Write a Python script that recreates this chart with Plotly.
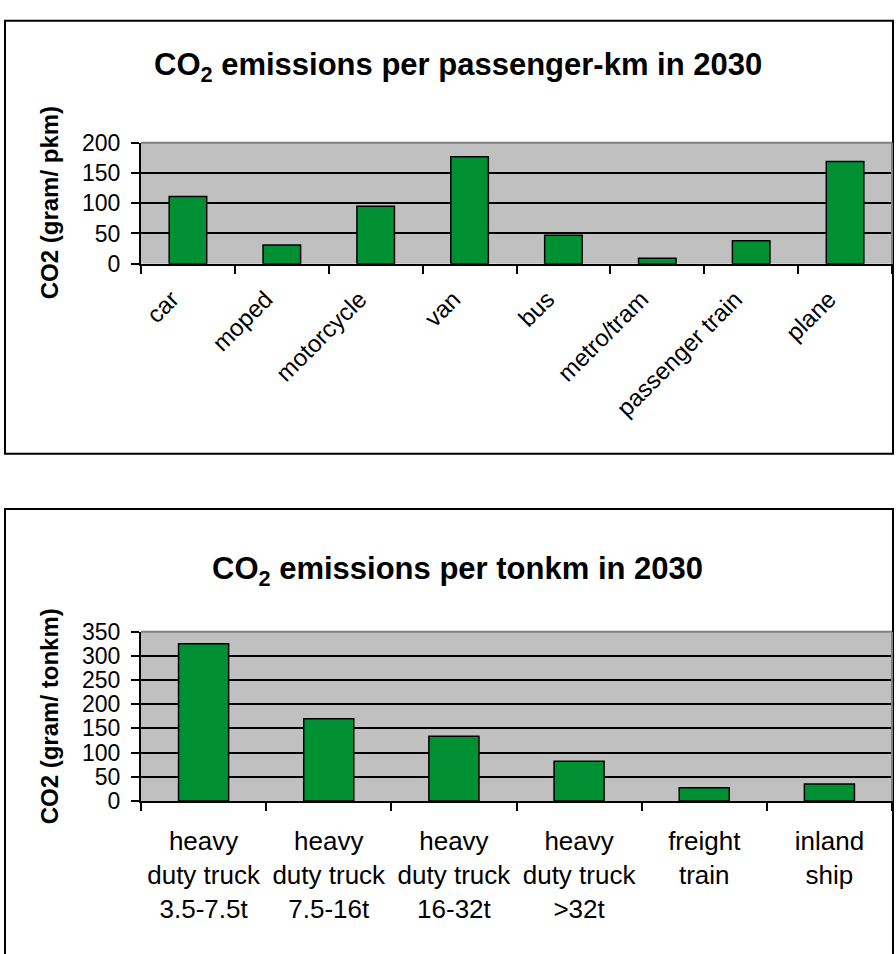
import plotly.graph_objects as go

# --- data -----------------------------------------------------------------
passenger_modes = ["car", "moped", "motorcycle", "van", "bus",
                   "metro/tram", "passenger train", "plane"]
passenger_co2 = [111, 31, 95, 177, 47, 9, 38, 169]

freight_modes = ["heavy<br>duty truck<br>3.5-7.5t",
                 "heavy<br>duty truck<br>7.5-16t",
                 "heavy<br>duty truck<br>16-32t",
                 "heavy<br>duty truck<br>>32t",
                 "freight<br>train",
                 "inland<br>ship"]
freight_co2 = [325, 170, 134, 82, 27, 35]

passenger_ticks = [0, 50, 100, 150, 200]
freight_ticks = [0, 50, 100, 150, 200, 250, 300, 350]

# --- styling ----------------------------------------------------------------
W, H = 896, 954
FONT = "Liberation Sans, Arial, sans-serif"
BAR_GREEN = "#009034"
PLOT_GREY = "#C0C0C0"


def px_x(x):
    return x / W


def px_y(y):
    return 1 - y / H


fig = go.Figure()

fig.add_trace(go.Bar(
    x=passenger_modes, y=passenger_co2, xaxis="x", yaxis="y",
    marker=dict(color=BAR_GREEN, line=dict(color="black", width=1.5)),
    showlegend=False, hoverinfo="x+y",
))
fig.add_trace(go.Bar(
    x=freight_modes, y=freight_co2, xaxis="x2", yaxis="y2",
    marker=dict(color=BAR_GREEN, line=dict(color="black", width=1.5)),
    showlegend=False, hoverinfo="y",
))

plot_left, plot_right = 141, 892
top_plot = (133.5, 257.7)
bot_plot = (636, 810)

xaxis_common = dict(
    showline=True, linecolor="black", linewidth=2,
    ticks="outside", ticklen=8, tickwidth=2, tickcolor="black",
    tickson="boundaries", showgrid=False, zeroline=False,
    fixedrange=True,
)
yaxis_common = dict(
    showline=True, linecolor="black", linewidth=2,
    ticks="outside", ticklen=8, tickwidth=2, tickcolor="black",
    showgrid=True, gridcolor="black", gridwidth=2, zeroline=False,
    tickfont=dict(family=FONT, size=23, color="black"),
    ticklabelstandoff=6,
    fixedrange=True,
)

fig.update_layout(
    width=W, height=H,
    margin=dict(l=0, r=0, t=0, b=0),
    paper_bgcolor="white",
    plot_bgcolor=PLOT_GREY,
    bargap=0.6,
    font=dict(family=FONT, color="black"),
    xaxis=dict(domain=[px_x(plot_left), px_x(plot_right)], anchor="y",
               tickangle=-45, ticklabelstandoff=10, ticklabelshift=-16,
               tickfont=dict(family=FONT, size=24, color="black"),
               **xaxis_common),
    yaxis=dict(domain=[px_y(top_plot[1]), px_y(top_plot[0])], anchor="x",
               range=[0, 200], tickvals=passenger_ticks, **yaxis_common),
    xaxis2=dict(domain=[px_x(plot_left), px_x(plot_right)], anchor="y2",
                tickangle=0, ticklabelstandoff=16,
                tickfont=dict(family=FONT, size=26, color="black"),
                **xaxis_common),
    yaxis2=dict(domain=[px_y(bot_plot[1]), px_y(bot_plot[0])], anchor="x2",
                range=[0, 350], tickvals=freight_ticks, **yaxis_common),
)

shapes = []
# chart frames
shapes.append(dict(type="rect", xref="paper", yref="paper",
                   x0=px_x(5), x1=px_x(893), y0=px_y(453), y1=px_y(8),
                   line=dict(color="black", width=2), layer="below"))
shapes.append(dict(type="rect", xref="paper", yref="paper",
                   x0=px_x(5), x1=px_x(893), y0=-0.02, y1=px_y(510),
                   line=dict(color="black", width=2), layer="below"))
# grey top/right edge of each plot area
for (ytop, ybot) in (top_plot, bot_plot):
    shapes.append(dict(type="line", xref="paper", yref="paper",
                       x0=px_x(plot_left), x1=px_x(plot_right),
                       y0=px_y(ytop), y1=px_y(ytop),
                       line=dict(color="#808080", width=2), layer="above"))
    shapes.append(dict(type="line", xref="paper", yref="paper",
                       x0=px_x(plot_right), x1=px_x(plot_right),
                       y0=px_y(ytop), y1=px_y(ybot),
                       line=dict(color="#808080", width=2), layer="above"))
fig.update_layout(shapes=shapes)

label_common = dict(xref="paper", yref="paper", showarrow=False,
                    xanchor="center", yanchor="middle")
annotations = [
    dict(text="<b>CO<sub>2</sub> emissions per passenger-km in 2030</b>",
         x=px_x(458), y=px_y(55),
         font=dict(family=FONT, size=31, color="black"), **label_common),
    dict(text="<b>CO<sub>2</sub> emissions per tonkm in 2030</b>",
         x=px_x(457), y=px_y(574),
         font=dict(family=FONT, size=31, color="black"), **label_common),
    dict(text="<b>CO2 (gram/ pkm)</b>", textangle=-90,
         x=px_x(49), y=px_y(sum(top_plot) / 2),
         font=dict(family=FONT, size=24, color="black"), **label_common),
    dict(text="<b>CO2 (gram/ tonkm)</b>", textangle=-90,
         x=px_x(49), y=px_y(sum(bot_plot) / 2),
         font=dict(family=FONT, size=24, color="black"), **label_common),
]
fig.update_layout(annotations=annotations)

fig.write_html("out.html")
